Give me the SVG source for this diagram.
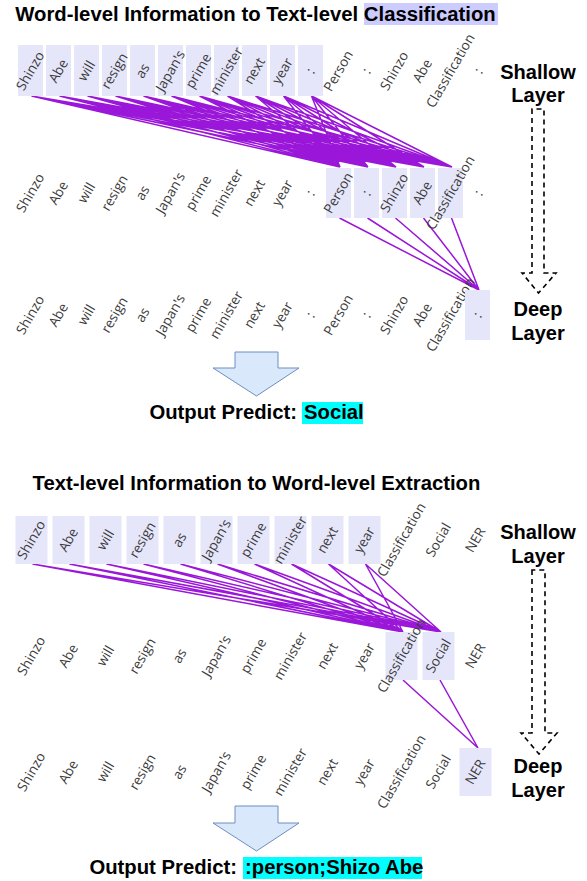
<svg xmlns="http://www.w3.org/2000/svg" width="587" height="881" viewBox="0 0 587 881">
<style>
.title{font:bold 20.3px "Liberation Sans",Arial,sans-serif;fill:#000}
.lbl{font:bold 20px "Liberation Sans",Arial,sans-serif;fill:#000;text-anchor:middle}
.t{font:13.6px "Open Sans",sans-serif;fill:#3a3a3a;text-anchor:middle}
.box{fill:#e6e6fa}
.con{stroke:#9a16d8;stroke-width:1.5;fill:none}
.dash{fill:none;stroke:#000;stroke-width:1.6;stroke-dasharray:5 4}
.big{fill:#dae8fc;stroke:#6c8ebf;stroke-width:1}
</style>
<rect width="587" height="881" fill="#fff"/>

<!-- ===== TOP SECTION ===== -->
<g id="title-top">
<rect x="364" y="3" width="134" height="22" fill="#ccccff"/>
<text class="title" x="255.5" y="21" text-anchor="middle">Word-level Information to Text-level Classification</text>
</g>

<g id="connectors-top">
<path class="con" d="M31.5 96L340 167M31.5 96L368 167M31.5 96L396 167M31.5 96L424 167M31.5 96L452 167
M59.5 96L340 167M59.5 96L368 167M59.5 96L396 167M59.5 96L424 167M59.5 96L452 167
M87.5 96L340 167M87.5 96L368 167M87.5 96L396 167M87.5 96L424 167M87.5 96L452 167
M115.5 96L340 167M115.5 96L368 167M115.5 96L396 167M115.5 96L424 167M115.5 96L452 167
M143.5 96L340 167M143.5 96L368 167M143.5 96L396 167M143.5 96L424 167M143.5 96L452 167
M171.5 96L340 167M171.5 96L368 167M171.5 96L396 167M171.5 96L424 167M171.5 96L452 167
M199.5 96L340 167M199.5 96L368 167M199.5 96L396 167M199.5 96L424 167M199.5 96L452 167
M227.5 96L340 167M227.5 96L368 167M227.5 96L396 167M227.5 96L424 167M227.5 96L452 167
M255.5 96L340 167M255.5 96L368 167M255.5 96L396 167M255.5 96L424 167M255.5 96L452 167
M283.5 96L340 167M283.5 96L368 167M283.5 96L396 167M283.5 96L424 167M283.5 96L452 167
M311.5 96L340 167M311.5 96L368 167M311.5 96L396 167M311.5 96L424 167M311.5 96L452 167"/>
<path class="con" d="M339.5 218L479 290M367.5 218L479 290M395.5 218L479 290M423.5 218L479 290M451.5 218L479 290"/>
</g>

<!-- row 1 top -->
<g id="t1-0"><rect class="box" x="18" y="45" width="25" height="51"/><text class="t" transform="translate(30.5,71) rotate(-60)" y="4.5">Shinzo</text></g>
<g id="t1-1"><rect class="box" x="46" y="45" width="25" height="51"/><text class="t" transform="translate(58.5,71) rotate(-60)" y="4.5">Abe</text></g>
<g id="t1-2"><rect class="box" x="74" y="45" width="25" height="51"/><text class="t" transform="translate(86.5,71) rotate(-60)" y="4.5">will</text></g>
<g id="t1-3"><rect class="box" x="102" y="45" width="25" height="51"/><text class="t" transform="translate(114.5,71) rotate(-60)" y="4.5">resign</text></g>
<g id="t1-4"><rect class="box" x="130" y="45" width="25" height="51"/><text class="t" transform="translate(142.5,71) rotate(-60)" y="4.5">as</text></g>
<g id="t1-5"><rect class="box" x="158" y="45" width="25" height="51"/><text class="t" transform="translate(170.5,71) rotate(-60)" y="4.5">Japan's</text></g>
<g id="t1-6"><rect class="box" x="186" y="45" width="25" height="51"/><text class="t" transform="translate(198.5,71) rotate(-60)" y="4.5">prime</text></g>
<g id="t1-7"><rect class="box" x="214" y="45" width="25" height="51"/><text class="t" transform="translate(226.5,71) rotate(-60)" y="4.5">minister</text></g>
<g id="t1-8"><rect class="box" x="242" y="45" width="25" height="51"/><text class="t" transform="translate(254.5,71) rotate(-60)" y="4.5">next</text></g>
<g id="t1-9"><rect class="box" x="270" y="45" width="25" height="51"/><text class="t" transform="translate(282.5,71) rotate(-60)" y="4.5">year</text></g>
<g id="t1-10"><rect class="box" x="298" y="45" width="25" height="51"/><text class="t" transform="translate(310.5,71) rotate(-60)" y="4.5">:</text></g>
<g id="t1-11"><text class="t" transform="translate(338.5,71) rotate(-60)" y="4.5">Person</text></g>
<g id="t1-12"><text class="t" transform="translate(366.5,71) rotate(-60)" y="4.5">:</text></g>
<g id="t1-13"><text class="t" transform="translate(394.5,71) rotate(-60)" y="4.5">Shinzo</text></g>
<g id="t1-14"><text class="t" transform="translate(422.5,71) rotate(-60)" y="4.5">Abe</text></g>
<g id="t1-15"><text class="t" transform="translate(450.5,71) rotate(-60)" y="4.5">Classification</text></g>
<g id="t1-16"><text class="t" transform="translate(478.5,71) rotate(-60)" y="4.5">:</text></g>

<!-- row 2 top -->
<g id="t2-0"><text class="t" transform="translate(30.5,193) rotate(-60)" y="4.5">Shinzo</text></g>
<g id="t2-1"><text class="t" transform="translate(58.5,193) rotate(-60)" y="4.5">Abe</text></g>
<g id="t2-2"><text class="t" transform="translate(86.5,193) rotate(-60)" y="4.5">will</text></g>
<g id="t2-3"><text class="t" transform="translate(114.5,193) rotate(-60)" y="4.5">resign</text></g>
<g id="t2-4"><text class="t" transform="translate(142.5,193) rotate(-60)" y="4.5">as</text></g>
<g id="t2-5"><text class="t" transform="translate(170.5,193) rotate(-60)" y="4.5">Japan's</text></g>
<g id="t2-6"><text class="t" transform="translate(198.5,193) rotate(-60)" y="4.5">prime</text></g>
<g id="t2-7"><text class="t" transform="translate(226.5,193) rotate(-60)" y="4.5">minister</text></g>
<g id="t2-8"><text class="t" transform="translate(254.5,193) rotate(-60)" y="4.5">next</text></g>
<g id="t2-9"><text class="t" transform="translate(282.5,193) rotate(-60)" y="4.5">year</text></g>
<g id="t2-10"><text class="t" transform="translate(310.5,193) rotate(-60)" y="4.5">:</text></g>
<g id="t2-11"><rect class="box" x="326" y="168" width="25" height="50"/><text class="t" transform="translate(338.5,193) rotate(-60)" y="4.5">Person</text></g>
<g id="t2-12"><rect class="box" x="354" y="168" width="25" height="50"/><text class="t" transform="translate(366.5,193) rotate(-60)" y="4.5">:</text></g>
<g id="t2-13"><rect class="box" x="382" y="168" width="25" height="50"/><text class="t" transform="translate(394.5,193) rotate(-60)" y="4.5">Shinzo</text></g>
<g id="t2-14"><rect class="box" x="410" y="168" width="25" height="50"/><text class="t" transform="translate(422.5,193) rotate(-60)" y="4.5">Abe</text></g>
<g id="t2-15"><rect class="box" x="438" y="168" width="25" height="50"/><text class="t" transform="translate(450.5,193) rotate(-60)" y="4.5">Classification</text></g>
<g id="t2-16"><text class="t" transform="translate(478.5,193) rotate(-60)" y="4.5">:</text></g>

<!-- row 3 top -->
<g id="t3-0"><text class="t" transform="translate(30.5,315) rotate(-60)" y="4.5">Shinzo</text></g>
<g id="t3-1"><text class="t" transform="translate(58.5,315) rotate(-60)" y="4.5">Abe</text></g>
<g id="t3-2"><text class="t" transform="translate(86.5,315) rotate(-60)" y="4.5">will</text></g>
<g id="t3-3"><text class="t" transform="translate(114.5,315) rotate(-60)" y="4.5">resign</text></g>
<g id="t3-4"><text class="t" transform="translate(142.5,315) rotate(-60)" y="4.5">as</text></g>
<g id="t3-5"><text class="t" transform="translate(170.5,315) rotate(-60)" y="4.5">Japan's</text></g>
<g id="t3-6"><text class="t" transform="translate(198.5,315) rotate(-60)" y="4.5">prime</text></g>
<g id="t3-7"><text class="t" transform="translate(226.5,315) rotate(-60)" y="4.5">minister</text></g>
<g id="t3-8"><text class="t" transform="translate(254.5,315) rotate(-60)" y="4.5">next</text></g>
<g id="t3-9"><text class="t" transform="translate(282.5,315) rotate(-60)" y="4.5">year</text></g>
<g id="t3-10"><text class="t" transform="translate(310.5,315) rotate(-60)" y="4.5">:</text></g>
<g id="t3-11"><text class="t" transform="translate(338.5,315) rotate(-60)" y="4.5">Person</text></g>
<g id="t3-12"><text class="t" transform="translate(366.5,315) rotate(-60)" y="4.5">:</text></g>
<g id="t3-13"><text class="t" transform="translate(394.5,315) rotate(-60)" y="4.5">Shinzo</text></g>
<g id="t3-14"><text class="t" transform="translate(422.5,315) rotate(-60)" y="4.5">Abe</text></g>
<g id="t3-15"><text class="t" transform="translate(450.5,315) rotate(-60)" y="4.5">Classification</text></g>
<g id="t3-16"><rect class="box" x="465" y="290" width="25" height="50"/><text class="t" transform="translate(477.5,315) rotate(-60)" y="4.5">:</text></g>

<g id="layer-top">
<text class="lbl" x="538" y="79">Shallow</text>
<text class="lbl" x="538" y="102">Layer</text>
<path class="dash" d="M532 109L532 273L522 273L538.5 293L556 273L544 273L544 109Z"/>
<text class="lbl" x="538" y="316">Deep</text>
<text class="lbl" x="538" y="340">Layer</text>
</g>

<g id="output-top">
<path class="big" d="M235 352L278 352L278 368L299 368L256.5 396L213 368L235 368Z"/>
<rect x="302" y="402" width="61" height="22" fill="#00ffff"/>
<text class="title" x="297" y="419" text-anchor="end">Output Predict:</text>
<text class="title" x="304" y="419">Social</text>
</g>

<!-- ===== BOTTOM SECTION ===== -->
<g id="title-bottom">
<text class="title" x="256.5" y="490" text-anchor="middle">Text-level Information to Word-level Extraction</text>
</g>

<g id="connectors-bottom">
<path class="con" d="M32.5 564L403 632M32.5 564L441 632
M69.5 564L403 632M69.5 564L441 632
M106.5 564L403 632M106.5 564L441 632
M143.5 564L403 632M143.5 564L441 632
M180.5 564L403 632M180.5 564L441 632
M217.5 564L403 632M217.5 564L441 632
M254.5 564L403 632M254.5 564L441 632
M291.5 564L403 632M291.5 564L441 632
M328.5 564L403 632M328.5 564L441 632
M365.5 564L403 632M365.5 564L441 632"/>
<path class="con" d="M403 680L478 748M440 680L478 748"/>
</g>

<!-- row 1 bottom -->
<g id="b1-0"><rect class="box" x="15.5" y="516" width="32" height="48"/><text class="t" transform="translate(31.5,540) rotate(-60)" y="4.5">Shinzo</text></g>
<g id="b1-1"><rect class="box" x="52.5" y="516" width="32" height="48"/><text class="t" transform="translate(68.5,540) rotate(-60)" y="4.5">Abe</text></g>
<g id="b1-2"><rect class="box" x="89.5" y="516" width="32" height="48"/><text class="t" transform="translate(105.5,540) rotate(-60)" y="4.5">will</text></g>
<g id="b1-3"><rect class="box" x="126.5" y="516" width="32" height="48"/><text class="t" transform="translate(142.5,540) rotate(-60)" y="4.5">resign</text></g>
<g id="b1-4"><rect class="box" x="163.5" y="516" width="32" height="48"/><text class="t" transform="translate(179.5,540) rotate(-60)" y="4.5">as</text></g>
<g id="b1-5"><rect class="box" x="200.5" y="516" width="32" height="48"/><text class="t" transform="translate(216.5,540) rotate(-60)" y="4.5">Japan's</text></g>
<g id="b1-6"><rect class="box" x="237.5" y="516" width="32" height="48"/><text class="t" transform="translate(253.5,540) rotate(-60)" y="4.5">prime</text></g>
<g id="b1-7"><rect class="box" x="274.5" y="516" width="32" height="48"/><text class="t" transform="translate(290.5,540) rotate(-60)" y="4.5">minister</text></g>
<g id="b1-8"><rect class="box" x="311.5" y="516" width="32" height="48"/><text class="t" transform="translate(327.5,540) rotate(-60)" y="4.5">next</text></g>
<g id="b1-9"><rect class="box" x="348.5" y="516" width="32" height="48"/><text class="t" transform="translate(364.5,540) rotate(-60)" y="4.5">year</text></g>
<g id="b1-10"><text class="t" transform="translate(401.5,540) rotate(-60)" y="4.5">Classification</text></g>
<g id="b1-11"><text class="t" transform="translate(438.5,540) rotate(-60)" y="4.5">Social</text></g>
<g id="b1-12"><text class="t" transform="translate(475.5,540) rotate(-60)" y="4.5">NER</text></g>

<!-- row 2 bottom -->
<g id="b2-0"><text class="t" transform="translate(31.5,656) rotate(-60)" y="4.5">Shinzo</text></g>
<g id="b2-1"><text class="t" transform="translate(68.5,656) rotate(-60)" y="4.5">Abe</text></g>
<g id="b2-2"><text class="t" transform="translate(105.5,656) rotate(-60)" y="4.5">will</text></g>
<g id="b2-3"><text class="t" transform="translate(142.5,656) rotate(-60)" y="4.5">resign</text></g>
<g id="b2-4"><text class="t" transform="translate(179.5,656) rotate(-60)" y="4.5">as</text></g>
<g id="b2-5"><text class="t" transform="translate(216.5,656) rotate(-60)" y="4.5">Japan's</text></g>
<g id="b2-6"><text class="t" transform="translate(253.5,656) rotate(-60)" y="4.5">prime</text></g>
<g id="b2-7"><text class="t" transform="translate(290.5,656) rotate(-60)" y="4.5">minister</text></g>
<g id="b2-8"><text class="t" transform="translate(327.5,656) rotate(-60)" y="4.5">next</text></g>
<g id="b2-9"><text class="t" transform="translate(364.5,656) rotate(-60)" y="4.5">year</text></g>
<g id="b2-10"><rect class="box" x="385.5" y="632" width="32" height="48"/><text class="t" transform="translate(401.5,656) rotate(-60)" y="4.5">Classification</text></g>
<g id="b2-11"><rect class="box" x="422.5" y="632" width="32" height="48"/><text class="t" transform="translate(438.5,656) rotate(-60)" y="4.5">Social</text></g>
<g id="b2-12"><text class="t" transform="translate(475.5,656) rotate(-60)" y="4.5">NER</text></g>

<!-- row 3 bottom -->
<g id="b3-0"><text class="t" transform="translate(31.5,772) rotate(-60)" y="4.5">Shinzo</text></g>
<g id="b3-1"><text class="t" transform="translate(68.5,772) rotate(-60)" y="4.5">Abe</text></g>
<g id="b3-2"><text class="t" transform="translate(105.5,772) rotate(-60)" y="4.5">will</text></g>
<g id="b3-3"><text class="t" transform="translate(142.5,772) rotate(-60)" y="4.5">resign</text></g>
<g id="b3-4"><text class="t" transform="translate(179.5,772) rotate(-60)" y="4.5">as</text></g>
<g id="b3-5"><text class="t" transform="translate(216.5,772) rotate(-60)" y="4.5">Japan's</text></g>
<g id="b3-6"><text class="t" transform="translate(253.5,772) rotate(-60)" y="4.5">prime</text></g>
<g id="b3-7"><text class="t" transform="translate(290.5,772) rotate(-60)" y="4.5">minister</text></g>
<g id="b3-8"><text class="t" transform="translate(327.5,772) rotate(-60)" y="4.5">next</text></g>
<g id="b3-9"><text class="t" transform="translate(364.5,772) rotate(-60)" y="4.5">year</text></g>
<g id="b3-10"><text class="t" transform="translate(401.5,772) rotate(-60)" y="4.5">Classification</text></g>
<g id="b3-11"><text class="t" transform="translate(438.5,772) rotate(-60)" y="4.5">Social</text></g>
<g id="b3-12"><rect class="box" x="459.5" y="748" width="32" height="48"/><text class="t" transform="translate(475.5,772) rotate(-60)" y="4.5">NER</text></g>

<g id="layer-bottom">
<text class="lbl" x="538" y="539">Shallow</text>
<text class="lbl" x="538" y="563">Layer</text>
<path class="dash" d="M532 570L532 733L521 733L539 754L557 733L545 733L545 570Z"/>
<text class="lbl" x="538" y="773">Deep</text>
<text class="lbl" x="538" y="797">Layer</text>
</g>

<g id="output-bottom">
<path class="big" d="M235 806L278 806L278 823L299 823L256.5 851L213 823L235 823Z"/>
<rect x="243" y="857" width="179" height="22" fill="#00ffff"/>
<text class="title" x="237" y="874" text-anchor="end">Output Predict:</text>
<text class="title" x="245" y="874">:person;Shizo Abe</text>
</g>
</svg>
